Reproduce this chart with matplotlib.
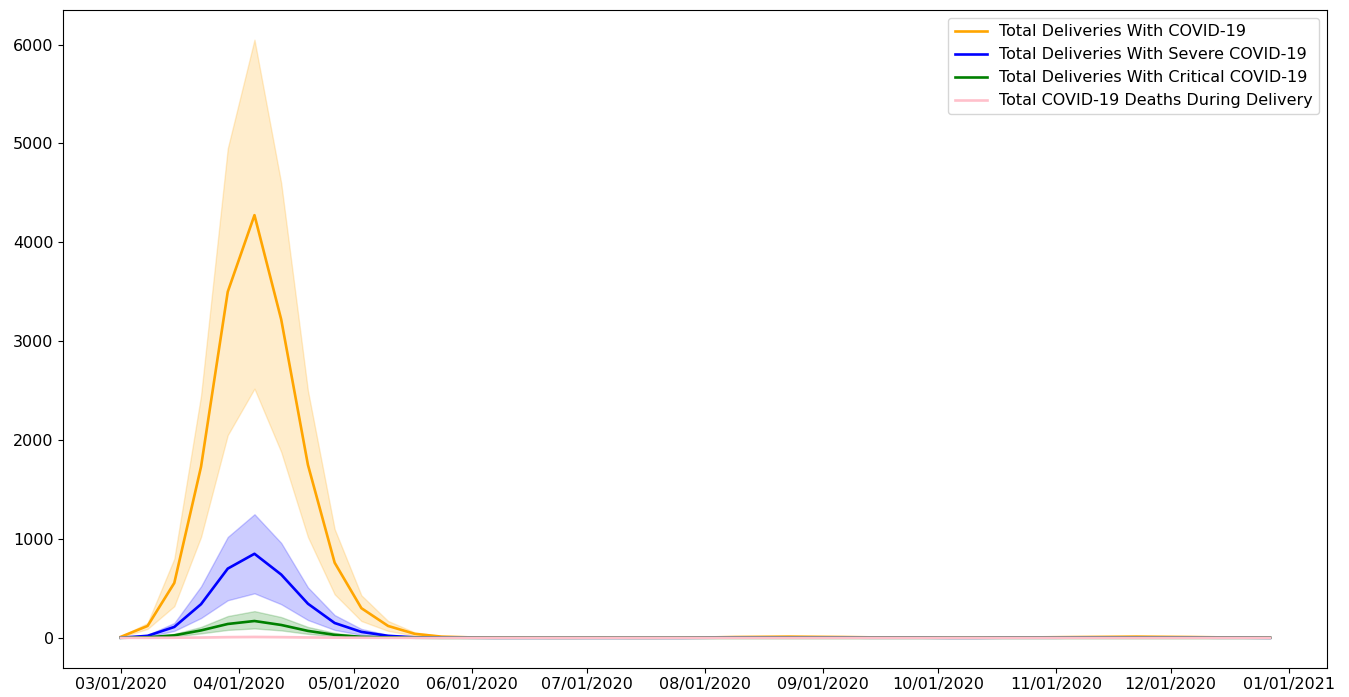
import matplotlib
matplotlib.use("Agg")
import matplotlib.pyplot as plt
import matplotlib.dates as mdates
import numpy as np
import pandas as pd

dates = pd.date_range("2020-03-01", periods=44, freq="7D")

# deliveries with covid-19 (mean, lower, upper)
total_mean = [10, 120, 555, 1730, 3500, 4275, 3220, 1750, 760, 300, 120, 40, 12, 5, 3,
              2, 1, 1, 2, 1, 1, 2, 4, 8, 10, 12, 10, 8, 5, 4, 3, 2, 2, 3, 4, 6, 8,
              10, 12, 10, 8, 5, 3, 2]
total_low = [5, 90, 320, 1020, 2050, 2520, 1880, 1020, 440, 170, 70, 22, 6, 2, 1,
             1, 0, 0, 1, 0, 0, 1, 2, 4, 5, 6, 5, 4, 2, 2, 1, 1, 1, 1, 2, 3, 4,
             5, 6, 5, 4, 2, 1, 1]
total_high = [15, 150, 800, 2450, 4950, 6050, 4600, 2500, 1100, 430, 170, 55, 18, 8, 5,
              3, 2, 2, 3, 2, 2, 3, 6, 12, 15, 18, 15, 12, 8, 6, 5, 3, 3, 5, 6, 9, 12,
              15, 18, 15, 12, 8, 5, 3]

severe_mean = [1, 20, 110, 340, 700, 850, 640, 345, 150, 60, 20, 5, 2, 1, 0,
               0, 0, 0, 0, 0, 0, 0, 1, 2, 2, 2, 2, 2, 1, 1, 1, 0, 0, 1, 1, 1, 2,
               2, 2, 2, 2, 1, 1, 0]
severe_low = [0, 12, 70, 200, 380, 450, 340, 180, 80, 30, 10, 2, 1, 0, 0,
              0, 0, 0, 0, 0, 0, 0, 0, 1, 1, 1, 1, 1, 0, 0, 0, 0, 0, 0, 0, 0, 1,
              1, 1, 1, 1, 0, 0, 0]
severe_high = [2, 30, 150, 520, 1020, 1250, 960, 510, 230, 90, 30, 8, 3, 1, 1,
               0, 0, 0, 0, 0, 0, 0, 1, 3, 3, 3, 3, 3, 2, 1, 1, 1, 1, 1, 1, 2, 3,
               3, 3, 3, 3, 2, 1, 1]

critical_mean = [0, 5, 25, 75, 140, 170, 130, 70, 30, 10, 4, 1, 0, 0, 0,
                 0, 0, 0, 0, 0, 0, 0, 0, 0, 0, 0, 0, 0, 0, 0, 0, 0, 0, 0, 0, 0, 0,
                 0, 0, 0, 0, 0, 0, 0]
critical_low = [0, 3, 12, 45, 80, 95, 75, 40, 15, 5, 2, 0, 0, 0, 0,
                0, 0, 0, 0, 0, 0, 0, 0, 0, 0, 0, 0, 0, 0, 0, 0, 0, 0, 0, 0, 0, 0,
                0, 0, 0, 0, 0, 0, 0]
critical_high = [1, 8, 40, 110, 220, 270, 210, 110, 50, 15, 6, 2, 1, 0, 0,
                 0, 0, 0, 0, 0, 0, 0, 0, 0, 0, 0, 0, 0, 0, 0, 0, 0, 0, 0, 0, 0, 0,
                 0, 0, 0, 0, 0, 0, 0]

deaths_mean = [0, 0, 1, 3, 7, 9, 7, 4, 2, 1, 0, 0, 0, 0, 0,
               0, 0, 0, 0, 0, 0, 0, 0, 0, 0, 0, 0, 0, 0, 0, 0, 0, 0, 0, 0, 0, 0,
               0, 0, 0, 0, 0, 0, 0]
deaths_low = [0, 0, 0, 1, 3, 4, 3, 2, 1, 0, 0, 0, 0, 0, 0,
              0, 0, 0, 0, 0, 0, 0, 0, 0, 0, 0, 0, 0, 0, 0, 0, 0, 0, 0, 0, 0, 0,
              0, 0, 0, 0, 0, 0, 0]
deaths_high = [0, 1, 2, 6, 12, 15, 12, 7, 3, 1, 0, 0, 0, 0, 0,
               0, 0, 0, 0, 0, 0, 0, 0, 0, 0, 0, 0, 0, 0, 0, 0, 0, 0, 0, 0, 0, 0,
               0, 0, 0, 0, 0, 0, 0]

series = [
    ("Total Deliveries With COVID-19", "orange", total_mean, total_low, total_high),
    ("Total Deliveries With Severe COVID-19", "blue", severe_mean, severe_low, severe_high),
    ("Total Deliveries With Critical COVID-19", "green", critical_mean, critical_low, critical_high),
    ("Total COVID-19 Deaths During Delivery", "pink", deaths_mean, deaths_low, deaths_high),
]

fig, ax = plt.subplots(figsize=(13.49, 6.97), dpi=100)
fig.subplots_adjust(left=0.047, right=0.984, top=0.986, bottom=0.042)

for label, color, mean, low, high in series:
    ax.plot(dates, mean, color=color, label=label, linewidth=1.9)
    ax.fill_between(dates, low, high, color=color, alpha=0.2, linewidth=1)

ax.xaxis.set_major_locator(mdates.MonthLocator())
ax.xaxis.set_major_formatter(mdates.DateFormatter("%m/%d/%Y"))
ax.tick_params(labelsize=11.5)
ax.legend(loc="upper right", fontsize=11.5)

fig.savefig("out.png", dpi=100)
